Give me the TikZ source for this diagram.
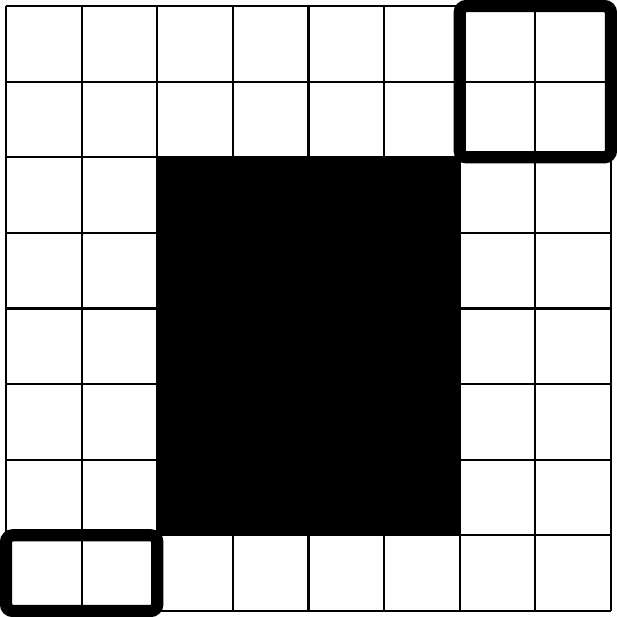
\documentclass[tikz,border=0pt]{standalone}
\begin{document}
\begin{tikzpicture}[x=1cm,y=1cm,
  thin grid/.style={line width=0.8pt, draw=black},
  thick box/.style={line width=4.6pt, draw=black, rounded corners=2.5pt}]
\useasboundingbox (-0.08,-0.08) rectangle (8.08,8.08);
\fill[white] (-0.08,-0.08) rectangle (8.08,8.08);
\draw[thin grid] (0,0) grid (8,8);
\fill[black] (2,1) rectangle (6,6);
\draw[thick box] (6,6) rectangle (8,8);
\draw[thick box] (0,0) rectangle (2,1);
\end{tikzpicture}
\end{document}
